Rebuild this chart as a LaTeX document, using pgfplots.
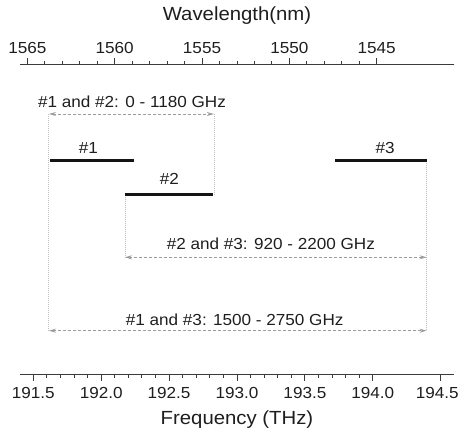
\documentclass[border=0pt]{standalone}
\usepackage{pgfplots}
\pgfplotsset{compat=1.18}
\usepackage{fontspec}
\setmainfont[FakeStretch=1.07]{Liberation Sans}
\usetikzlibrary{arrows.meta}
\definecolor{axgray}{HTML}{3A3A3A}
\definecolor{dashgray}{HTML}{9C9C9C}
\definecolor{dotgray}{HTML}{BEBEBE}
\definecolor{txt}{HTML}{1E1E1E}
\begin{document}
\begin{tikzpicture}
\begin{axis}[
  at={(0,0)}, anchor=south west,
  scale only axis, width=434.6pt, height=309.5pt,
  xmin=191.4, xmax=194.6, ymin=55, ymax=364.5,
  axis x line*=bottom, axis y line=none,
  xtick={191.5,192.0,192.5,193.0,193.5,194.0},
  extra x ticks={194.5},
  extra x tick style={xticklabel style={xshift=-3.5pt}},
  minor x tick num=4,
  tick align=outside,
  major tick length=6.5pt, minor tick length=3.5pt,
  every tick/.style={axgray, line width=0.9pt},
  axis line style={axgray, line width=0.9pt, -},
  /pgf/number format/assume math mode=true,
  /pgf/number format/fixed, /pgf/number format/fixed zerofill,
  /pgf/number format/precision=1,
  xticklabel style={font=\fontsize{16}{18}\selectfont, text=txt, anchor=north, inner sep=0pt, yshift=-7pt},
  xlabel={Frequency (THz)},
  xlabel style={font=\fontsize{19}{22}\selectfont, text=txt, at={(axis description cs:0.5,0)}, anchor=center, yshift=-45.5pt},
  clip=false,
]
% vertical dotted guides
\addplot[dotgray, line width=0.8pt, dash pattern=on 1pt off 1pt] coordinates {(191.615,315) (191.615,98.3)};
\addplot[dotgray, line width=0.8pt, dash pattern=on 1pt off 1pt] coordinates {(192.83,315) (192.83,234.3)};
\addplot[dotgray, line width=0.8pt, dash pattern=on 1pt off 1pt] coordinates {(192.175,234.3) (192.175,171.7)};
\addplot[dotgray, line width=0.8pt, dash pattern=on 1pt off 1pt] coordinates {(194.396,268.3) (194.396,98.3)};
% dashed ranges
\addplot[dashgray, line width=1pt, dash pattern=on 3pt off 2pt, {Stealth[length=7pt,width=4pt]}-{Stealth[length=7pt,width=4pt]}] coordinates {(191.615,315) (192.83,315)};
\addplot[dashgray, line width=1pt, dash pattern=on 3pt off 2pt, {Stealth[length=7pt,width=4pt]}-{Stealth[length=7pt,width=4pt]}] coordinates {(192.175,171.7) (194.396,171.7)};
\addplot[dashgray, line width=1pt, dash pattern=on 3pt off 2pt, {Stealth[length=7pt,width=4pt]}-{Stealth[length=7pt,width=4pt]}] coordinates {(191.615,98.3) (194.396,98.3)};
% channels
\addplot[black!92, line width=3pt] coordinates {(191.623,268.3) (192.242,268.3)};
\addplot[black!92, line width=3pt] coordinates {(192.175,234.3) (192.821,234.3)};
\addplot[black!92, line width=3pt] coordinates {(193.722,268.3) (194.396,268.3)};
% labels
\node[font=\fontsize{16}{18}\selectfont, text=txt] at (axis cs:192.227,327.3) {\#1 and \#2: 0 - 1180 GHz};
\node[font=\fontsize{16}{18}\selectfont, text=txt] at (axis cs:191.905,280.7) {\#1};
\node[font=\fontsize{16}{18}\selectfont, text=txt] at (axis cs:192.502,249.7) {\#2};
\node[font=\fontsize{16}{18}\selectfont, text=txt] at (axis cs:194.09,280.7) {\#3};
\node[font=\fontsize{16}{18}\selectfont, text=txt] at (axis cs:193.249,185) {\#2 and \#3: 920 - 2200 GHz};
\node[font=\fontsize{16}{18}\selectfont, text=txt] at (axis cs:192.983,109.7) {\#1 and \#3: 1500 - 2750 GHz};
\end{axis}
\begin{axis}[
  at={(0,0)}, anchor=south west,
  scale only axis, width=434.6pt, height=309.5pt,
  x dir=reverse,
  xmin=1540.56, xmax=1565.435, ymin=0, ymax=1,
  axis x line*=top, axis y line=none,
  xtick={1545,1550,1555,1560,1565},
  minor x tick num=4,
  tick align=outside,
  major tick length=6.5pt, minor tick length=3.5pt,
  every tick/.style={axgray, line width=0.9pt},
  axis line style={axgray, line width=0.9pt, -},
  /pgf/number format/assume math mode=true,
  /pgf/number format/1000 sep={},
  xticklabel style={font=\fontsize{16}{18}\selectfont, text=txt, anchor=south, inner sep=0pt, yshift=4pt},
  xlabel={Wavelength(nm)},
  xlabel style={font=\fontsize{19}{22}\selectfont, text=txt, at={(axis description cs:0.5,1)}, anchor=center, yshift=48.5pt},
]
\addplot[draw=none] coordinates {(1550,0.5)};
\end{axis}
\pgfresetboundingbox
\useasboundingbox (-19.7pt,-55pt) rectangle (440.3pt,374pt);
\end{tikzpicture}
\end{document}
